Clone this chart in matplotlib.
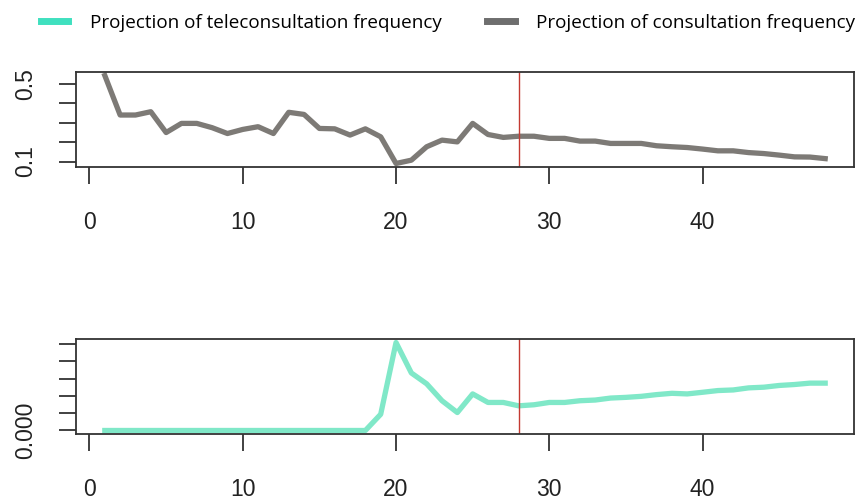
import numpy as np
import matplotlib
matplotlib.use("Agg")
import matplotlib.pyplot as plt
from matplotlib.lines import Line2D

# time index (weeks) and the split between observed and projected values
weeks = np.arange(1, 49)
split_week = 28

# consultation frequency: observed 1..27, projection from 28 on
consult = [0.542, 0.339, 0.339, 0.356, 0.249, 0.296, 0.296, 0.274, 0.244, 0.265,
           0.279, 0.244, 0.353, 0.342, 0.270, 0.268, 0.236, 0.268, 0.227, 0.090,
           0.107, 0.176, 0.210, 0.201, 0.296, 0.239, 0.224,
           0.230, 0.230, 0.219, 0.219, 0.205, 0.205, 0.193, 0.193, 0.193, 0.181,
           0.176, 0.172, 0.164, 0.155, 0.155, 0.146, 0.141, 0.133, 0.124, 0.123,
           0.115]

# teleconsultation frequency, same layout
tele = [0.0, 0.0, 0.0, 0.0, 0.0, 0.0, 0.0, 0.0, 0.0, 0.0,
        0.0, 0.0, 0.0, 0.0, 0.0, 0.0, 0.0, 0.0, 0.00188, 0.0102,
        0.00667, 0.00541, 0.00345, 0.00208, 0.00424, 0.00325, 0.00325,
        0.00286, 0.00298, 0.00325, 0.00325, 0.00345, 0.00353, 0.00376, 0.00384,
        0.00396, 0.00416, 0.00431, 0.00424, 0.00443, 0.00463, 0.0047, 0.00494,
        0.00502, 0.00522, 0.00533, 0.00549, 0.00549]

consult_ticks = [0.1, 0.2, 0.3, 0.4, 0.5]
consult_labels = ["0.1", "", "", "", "0.5"]
tele_ticks = [0.0, 0.002, 0.004, 0.006, 0.008, 0.010]
tele_labels = ["0.000", "", "", "", "", ""]
x_ticks = [0, 10, 20, 30, 40]

teal = "#80e8c8"
grey = "#7d7a76"
red = "#c43a32"

plt.rcParams["font.family"] = ["Liberation Sans", "DejaVu Sans"]

fig = plt.figure(figsize=(8.59, 5.03), dpi=100)
W, H = 859, 503


def panel(top, bottom):
    return fig.add_axes([76 / W, 1 - bottom / H, 778 / W, (bottom - top) / H])


def style(ax, yticks, ylabels):
    ax.margins(x=0.04, y=0.04)
    ax.set_xticks(x_ticks)
    ax.set_yticks(yticks)
    ax.set_yticklabels(ylabels, rotation=90, va="center")
    for s in ax.spines.values():
        s.set_linewidth(1.3)
        s.set_color("#333333")
    ax.tick_params(axis="both", direction="out", length=12, width=1.3,
                   color="#333333", labelsize=16.5, labelcolor="#222222")
    ax.tick_params(axis="x", pad=20)
    ax.tick_params(axis="y", pad=16)


ax1 = panel(72, 167)
ax1.plot(weeks, consult, color=grey, lw=3.8, solid_joinstyle="round")
style(ax1, consult_ticks, consult_labels)
ax1.axvline(split_week, color=red, lw=1)

ax2 = panel(339, 434)
ax2.plot(weeks, tele, color=teal, lw=3.8, solid_joinstyle="round")
style(ax2, tele_ticks, tele_labels)
ax2.axvline(split_week, color=red, lw=1)

handles = [Line2D([], [], color="#3fe0bf", lw=5),
           Line2D([], [], color="#6e6e6e", lw=5)]
fig.legend(handles, ["Projection of teleconsultation frequency",
                     "Projection of consultation frequency"],
           loc="center left", bbox_to_anchor=(41 / W, 1 - 23 / H), ncol=2,
           frameon=False, handlelength=1.45, handletextpad=1.15,
           columnspacing=2.4, borderaxespad=0, borderpad=0,
           prop={"family": ["Open Sans", "DejaVu Sans"], "size": 13.6})

fig.savefig("out.png", dpi=100)
